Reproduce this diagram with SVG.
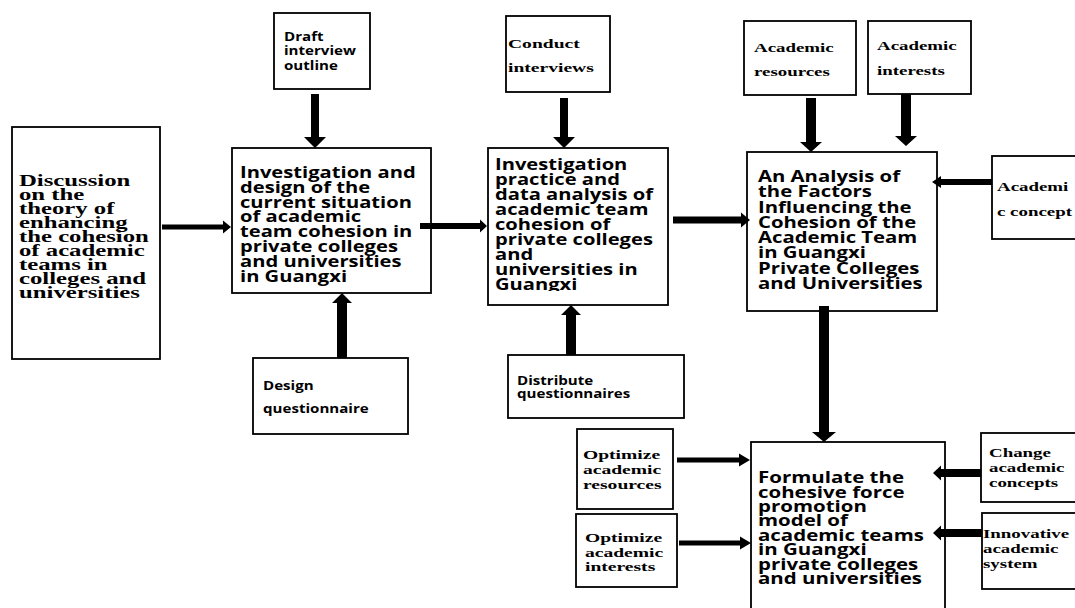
<svg xmlns="http://www.w3.org/2000/svg" width="1075" height="608" viewBox="0 0 1075 608">
<style>
.box{fill:#fff;stroke:#000;stroke-width:1.8}
.big{font-family:"Open Sans","Liberation Sans",sans-serif;font-weight:700;font-size:16px;fill:#000}
.fm{font-family:"Open Sans","Liberation Sans",sans-serif;font-weight:700;font-size:16.5px;fill:#000}
.sm{font-family:"Open Sans","Liberation Sans",sans-serif;font-weight:700;font-size:12px;fill:#000}
.ser{font-family:"Liberation Serif","Times New Roman",serif;font-weight:700;font-size:13.5px;fill:#000}
.ser1{font-family:"Liberation Serif","Times New Roman",serif;font-weight:700;font-size:16.5px;fill:#000}
.ar{fill:#000}
</style>
<defs>
<clipPath id="c3"><rect x="488" y="148" width="180" height="143"/></clipPath>
</defs>
<rect width="1075" height="608" fill="#fff"/>

<g id="draft">
<rect class="box" x="274" y="13" width="96" height="76"/>
<text class="sm" transform="translate(284,41) scale(1.26,1)"><tspan x="0" y="0">Draft</tspan><tspan x="0" y="14.5">interview</tspan><tspan x="0" y="29">outline</tspan></text>
</g>
<g id="conduct">
<rect class="box" x="506" y="16" width="104" height="76"/>
<text class="ser" transform="translate(508,48) scale(1.45,1)"><tspan x="0" y="0">Conduct</tspan><tspan x="0" y="24">interviews</tspan></text>
</g>
<g id="acres">
<rect class="box" x="744" y="21" width="112" height="74"/>
<text class="ser" transform="translate(754,52) scale(1.4,1)"><tspan x="0" y="0">Academic</tspan><tspan x="0" y="24">resources</tspan></text>
</g>
<g id="acint">
<rect class="box" x="868" y="21" width="103" height="73"/>
<text class="ser" transform="translate(877,50) scale(1.4,1)"><tspan x="0" y="0">Academic</tspan><tspan x="0" y="25">interests</tspan></text>
</g>
<g id="discussion">
<rect class="box" x="12" y="127" width="148" height="232"/>
<text class="ser1" transform="translate(19,186) scale(1.5,1)"><tspan x="0" y="0">Discussion</tspan><tspan x="0" y="14">on the</tspan><tspan x="0" y="28">theory of</tspan><tspan x="0" y="42">enhancing</tspan><tspan x="0" y="56">the cohesion</tspan><tspan x="0" y="70">of academic</tspan><tspan x="0" y="84">teams in</tspan><tspan x="0" y="98">colleges and</tspan><tspan x="0" y="112">universities</tspan></text>
</g>
<g id="design">
<rect class="box" x="232" y="148" width="199" height="145"/>
<text class="big" transform="translate(240,178) scale(1.26,1)"><tspan x="0" y="0">Investigation and</tspan><tspan x="0" y="14.8">design of the</tspan><tspan x="0" y="29.6">current situation</tspan><tspan x="0" y="44.4">of academic</tspan><tspan x="0" y="59.2">team cohesion in</tspan><tspan x="0" y="74">private colleges</tspan><tspan x="0" y="88.8">and universities</tspan><tspan x="0" y="103.6">in Guangxi</tspan></text>
</g>
<g id="practice">
<rect class="box" x="488" y="148" width="180" height="157"/>
<g clip-path="url(#c3)">
<text class="big" transform="translate(495,170) scale(1.26,1)"><tspan x="0" y="0">Investigation</tspan><tspan x="0" y="15">practice and</tspan><tspan x="0" y="30">data analysis of</tspan><tspan x="0" y="45">academic team</tspan><tspan x="0" y="60">cohesion of</tspan><tspan x="0" y="75">private colleges</tspan><tspan x="0" y="90">and</tspan><tspan x="0" y="105">universities in</tspan><tspan x="0" y="120">Guangxi</tspan></text>
</g>
</g>
<g id="analysis">
<rect class="box" x="747" y="152" width="190" height="159"/>
<text class="big" transform="translate(758,182) scale(1.27,1)"><tspan x="0" y="0">An Analysis of</tspan><tspan x="0" y="15.3">the Factors</tspan><tspan x="0" y="30.6">Influencing the</tspan><tspan x="0" y="45.9">Cohesion of the</tspan><tspan x="0" y="61.2">Academic Team</tspan><tspan x="0" y="76.5">in Guangxi</tspan><tspan x="0" y="91.8">Private Colleges</tspan><tspan x="0" y="107.1">and Universities</tspan></text>
</g>
<g id="concept">
<rect class="box" x="992" y="156" width="95" height="83"/>
<text class="ser" transform="translate(997,191) scale(1.4,1)"><tspan x="0" y="0">Academi</tspan><tspan x="0" y="25">c concept</tspan></text>
</g>
<g id="questionnaire">
<rect class="box" x="253" y="358" width="155" height="76"/>
<text class="sm" transform="translate(263,390) scale(1.26,1)"><tspan x="0" y="0">Design</tspan><tspan x="0" y="23">questionnaire</tspan></text>
</g>
<g id="distribute">
<rect class="box" x="508" y="355" width="176" height="63"/>
<text class="sm" transform="translate(517,385) scale(1.26,1)"><tspan x="0" y="0">Distribute</tspan><tspan x="0" y="13.5">questionnaires</tspan></text>
</g>
<g id="optres">
<rect class="box" x="577" y="429" width="96" height="80"/>
<text class="ser" transform="translate(583,459) scale(1.45,1)"><tspan x="0" y="0">Optimize</tspan><tspan x="0" y="15">academic</tspan><tspan x="0" y="30">resources</tspan></text>
</g>
<g id="optint">
<rect class="box" x="576" y="514" width="101" height="73"/>
<text class="ser" transform="translate(585,542) scale(1.45,1)"><tspan x="0" y="0">Optimize</tspan><tspan x="0" y="15">academic</tspan><tspan x="0" y="29.5">interests</tspan></text>
</g>
<g id="formulate">
<rect class="box" x="751" y="442" width="194" height="180"/>
<text class="fm" transform="translate(758,483) scale(1.24,1)"><tspan x="0" y="0">Formulate the</tspan><tspan x="0" y="14.5">cohesive force</tspan><tspan x="0" y="29">promotion</tspan><tspan x="0" y="43.5">model of</tspan><tspan x="0" y="58">academic teams</tspan><tspan x="0" y="72.5">in Guangxi</tspan><tspan x="0" y="87">private colleges</tspan><tspan x="0" y="101.5">and universities</tspan></text>
</g>
<g id="change">
<rect class="box" x="981" y="433" width="100" height="69"/>
<text class="ser" transform="translate(989,457) scale(1.4,1)"><tspan x="0" y="0">Change</tspan><tspan x="0" y="15">academic</tspan><tspan x="0" y="30">concepts</tspan></text>
</g>
<g id="innovative">
<rect class="box" x="982" y="513" width="100" height="76"/>
<text class="ser" transform="translate(983,538) scale(1.4,1)"><tspan x="0" y="0">Innovative</tspan><tspan x="0" y="15">academic</tspan><tspan x="0" y="30">system</tspan></text>
</g>

<g id="connectors" class="ar">
<polygon points="311,94 319,94 319,137 326,137 315,148 304,137 311,137"/>
<polygon points="560,98 568,98 568,137 575,137 564,148 553,137 560,137"/>
<polygon points="806,98 816,98 816,142 822,142 811,152 800,142 806,142"/>
<polygon points="901,94 911,94 911,136 917,136 906,146 895,136 901,136"/>
<polygon points="337,358 347,358 347,303 352,303 342,293 332,303 337,303"/>
<polygon points="566,355 576,355 576,315 581,315 571,305 561,315 566,315"/>
<polygon points="162,224.5 223,224.5 223,220.5 231,227 223,233.5 223,229.5 162,229.5"/>
<polygon points="420,223 480,223 480,219.5 487,226 480,232.5 480,229 420,229"/>
<polygon points="673,216.5 741,216.5 741,212.5 750,220 741,227.5 741,223.5 673,223.5"/>
<polygon points="992,179 941,179 941,176 932,182 941,188 941,185 992,185"/>
<polygon points="819,306 829,306 829,432 836,432 824,442 812,432 819,432"/>
<polygon points="677,457.5 739,457.5 739,453.5 750,460 739,466.5 739,462.5 677,462.5"/>
<polygon points="679,540.5 740,540.5 740,536.5 751,543 740,549.5 740,545.5 679,545.5"/>
<polygon points="981,469 941,469 941,465.5 933,473 941,480.5 941,477 981,477"/>
<polygon points="982,529 941,529 941,525.5 933,533 941,540.5 941,537 982,537"/>
</g>
</svg>
